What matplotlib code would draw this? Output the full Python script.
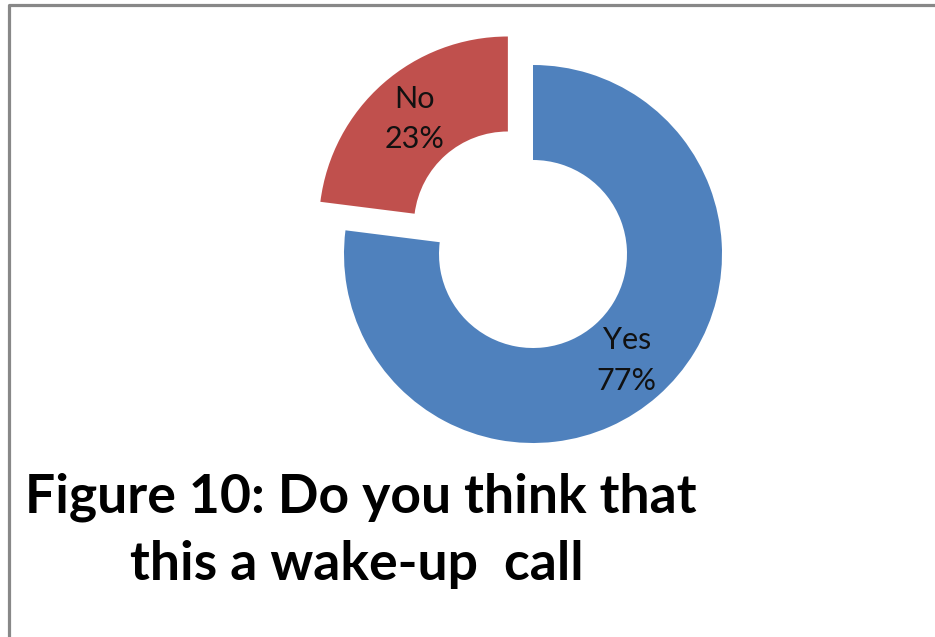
import matplotlib
matplotlib.use("Agg")
import matplotlib.pyplot as plt
import numpy as np

# data
labels = ["Yes", "No"]
values = [77, 23]
colors = ["#4F81BD", "#C0504D"]
title_lines = ["Figure 10: Do you think that", "this a wake-up  call"]

W, H = 935, 637
fig = plt.figure(figsize=(W / 100, H / 100), dpi=100)
ax = fig.add_axes([0, 0, 1, 1])

cx, cy, r = 533, H - 254, 189
wedges, _ = ax.pie(values, colors=colors, explode=[0, 38], startangle=90,
                   counterclock=False, center=(cx, cy), radius=r,
                   wedgeprops=dict(width=95, linewidth=0), frame=True)
ax.set_xlim(0, W)
ax.set_ylim(0, H)
ax.set_aspect("equal")
ax.axis("off")

total = sum(values)
for w, lab, v in zip(wedges, labels, values):
    ang = np.deg2rad((w.theta1 + w.theta2) / 2)
    wx, wy = w.center
    d = r * 0.75
    ax.text(wx + d * np.cos(ang), wy + d * np.sin(ang),
            f"{lab}\n{round(v / total * 100)}%", ha="center", va="center",
            fontsize=22, family="Lato", color="#111111", linespacing=1.55)

# title
ax.text(25, H - 512, title_lines[0], fontsize=38.5, fontweight="bold",
        family="Lato", ha="left", va="baseline")
ax.text(130, H - 580, title_lines[1], fontsize=38.5, fontweight="bold",
        family="Lato", ha="left", va="baseline")

# border
ax.plot([8.5, 8.5, W], [0, H - 4.5, H - 4.5], color="#888888", lw=2.3,
        solid_capstyle="butt")

fig.savefig("out.png", dpi=100)
